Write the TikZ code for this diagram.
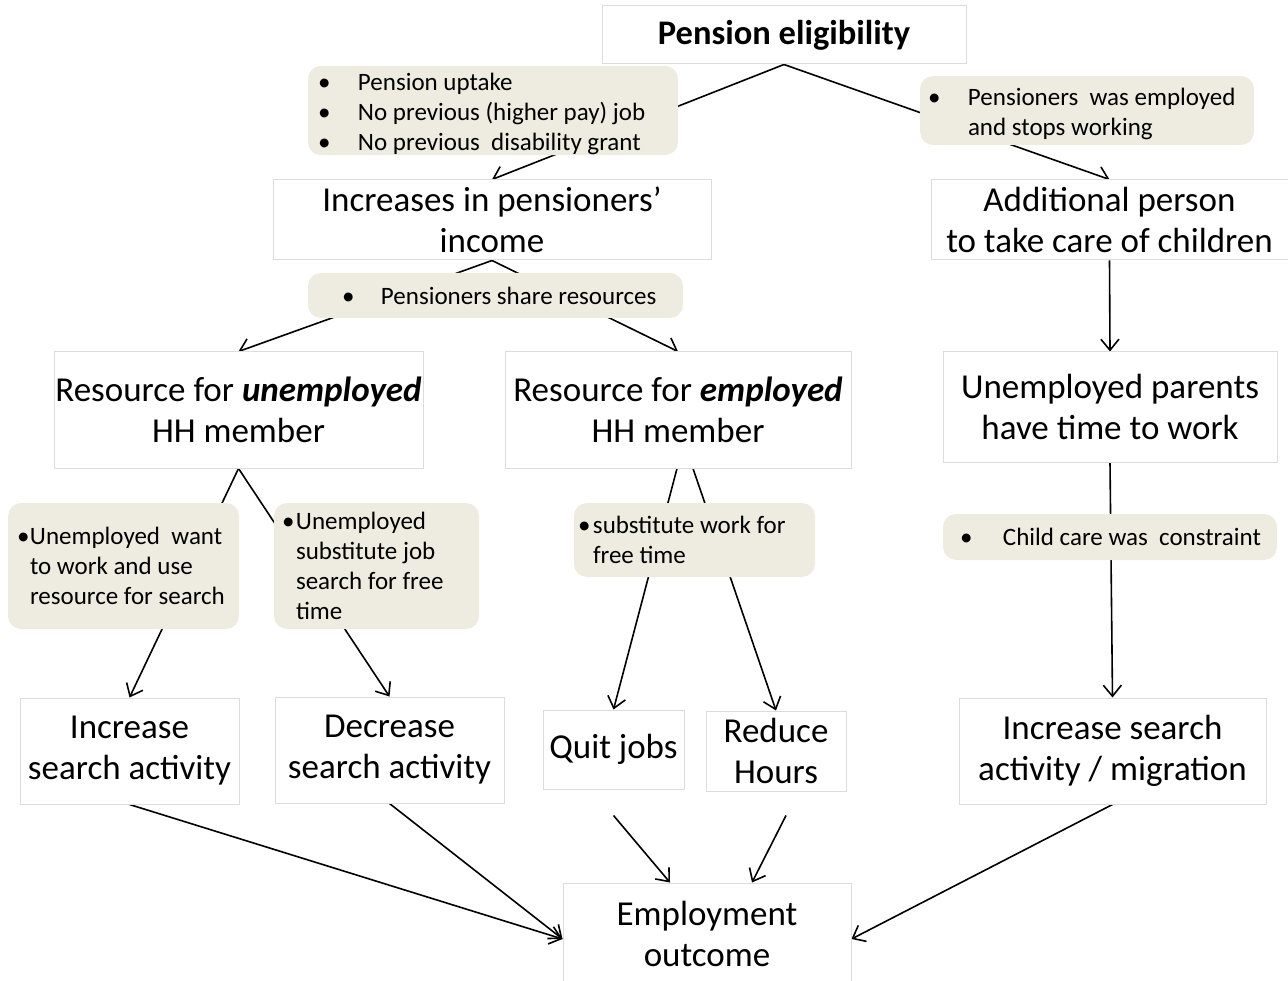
\documentclass[tikz,border=0pt]{standalone}
\usepackage{fontspec}
\setmainfont{Carlito}
\usetikzlibrary{arrows.meta,backgrounds}
\definecolor{boxline}{HTML}{DCDCDC}
\definecolor{notefill}{HTML}{EEECE1}
\newcommand{\bigtext}{\fontsize{35}{41}\selectfont}
\newcommand{\notetext}{\fontsize{25}{30}\selectfont}
\newcommand{\bul}[1]{\makebox[#1][l]{\textbullet}}
\newcommand{\topstrut}{\rule{0pt}{25pt}}
\begin{document}
\begin{tikzpicture}[x=1pt,y=-1pt,
  stage/.style={draw=boxline, line width=1pt, fill=white, inner sep=0pt, align=center, font=\bigtext},
  note/.style={fill=notefill, rounded corners=13pt, inner ysep=0pt, align=flush left, font=\notetext},
  flow/.style={line width=1.6pt, draw=black, -{Straight Barb[length=11pt,width=18pt,line width=1.6pt]}}
]
\useasboundingbox (0,0) rectangle (1288,981);

% main stages
\node[stage, minimum width=364pt, minimum height=58pt, font=\fontsize{34.5}{40}\selectfont\bfseries] (elig) at (784,35) {Pension eligibility};
\node[stage, minimum width=438pt, minimum height=80pt] (incr) at (492,220) {Increases in pensioners’\\income};
\node[stage, minimum width=357pt, minimum height=80pt] (addl) at (1109.5,220) {Additional person\\to take care of children};
\node[stage, minimum width=369pt, minimum height=116pt] (unemp) at (238.5,410) {Resource for \textbf{\textit{unemployed}}\\HH member};
\node[stage, minimum width=346pt, minimum height=116pt] (emp) at (678,410) {Resource for \textbf{\textit{employed}}\\HH member};
\node[stage, minimum width=334pt, minimum height=110pt] (upar) at (1110,407) {Unemployed parents\\have time to work};
\node[stage, minimum width=219pt, minimum height=106pt] (incS) at (129.5,751) {Increase\\search activity};
\node[stage, minimum width=229pt, minimum height=106pt] (decS) at (389.5,750) {Decrease\\search activity};
\node[stage, minimum width=141pt, minimum height=79pt] (quit) at (613.5,749.5) {Quit jobs};
\node[stage, minimum width=140pt, minimum height=80pt] (reduce) at (776,751) {Reduce\\Hours};
\node[stage, minimum width=307pt, minimum height=106pt] (incM) at (1112.5,751) {Increase search\\activity / migration};
\node[stage, minimum width=288pt, minimum height=102pt] (outc) at (707,934) {Employment\\outcome};

% mechanism notes
\node[note, text width=350pt, inner xsep=10pt, minimum height=89pt] (uptake) at (493,110.5)
  {\topstrut\bul{40pt}Pension uptake\\\bul{40pt}No previous (higher pay) job\\\bul{40pt}No previous\ \ disability grant};
\node[note, text width=318pt, inner xsep=8pt, minimum height=69pt] (stops) at (1087,110.5)
  {\topstrut\bul{40pt}Pensioners\ \ was employed\\\hspace*{40pt}and stops working};
\node[note, text width=355pt, inner xsep=10pt, minimum height=45pt] (share) at (495.5,295.5)
  {\hspace*{24pt}\bul{39pt}Pensioners share resources};
\node[note, text width=213pt, inner xsep=9pt, minimum height=126pt] (want) at (123.5,566)
  {\bul{13pt}Unemployed\ \ want\\\hspace*{13pt}to work and use\\\hspace*{13pt}resource for search};
\node[note, text width=189pt, inner xsep=8pt, minimum height=126pt] (subjob) at (376.5,566)
  {\bul{14pt}Unemployed\\\hspace*{14pt}substitute job\\\hspace*{14pt}search for free\\\hspace*{14pt}time};
\node[note, text width=233pt, inner xsep=4pt, minimum height=74pt] (subwork) at (694.5,540)
  {\bul{15pt}substitute work for\\\hspace*{15pt}free time};
\node[note, text width=314pt, inner xsep=10pt, minimum height=46pt] (care) at (1110,537)
  {\hspace*{7pt}\bul{43pt}Child care was\ \ constraint};

% causal links, passing behind the notes
\begin{scope}[on background layer]
\draw[flow] (elig.south) -- (incr.north);
\draw[flow] (elig.south) -- (addl.north);
\draw[flow] (incr.south) -- (unemp.north);
\draw[flow] (incr.south) -- (emp.north);
\draw[flow] (unemp.south) -- (incS.north);
\draw[flow] (unemp.south) -- (decS.north);
\draw[flow] ([xshift=-1pt]emp.south) -- (quit.north);
\draw[flow] ([xshift=15pt]emp.south) -- (reduce.north);
\draw[flow] (addl.south) -- (upar.north);
\draw[flow] (upar.south) -- (incM.north);
\draw[flow] (incS.south) -- ([yshift=-5pt]outc.west);
\draw[flow] (decS.south) -- ([yshift=-5pt]outc.west);
\draw[flow] ([yshift=-26pt]quit.south) -- ([xshift=-37pt]outc.north);
\draw[flow] ([xshift=10pt,yshift=-24pt]reduce.south) -- ([xshift=45pt]outc.north);
\draw[flow] (incM.south) -- ([yshift=-5pt]outc.east);
\end{scope}
\end{tikzpicture}
\end{document}
